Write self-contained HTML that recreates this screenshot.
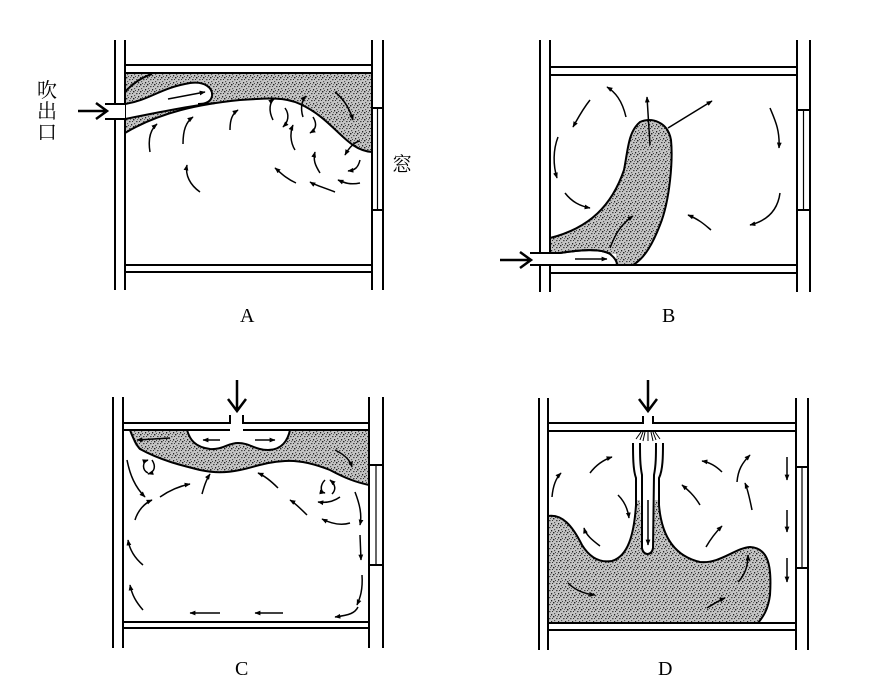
<!DOCTYPE html>
<html><head><meta charset="utf-8"><style>
html,body{margin:0;padding:0;background:#fff;}
svg{display:block;}
text{font-family:"Liberation Serif","Noto Serif CJK SC",serif;}
</style></head><body>
<svg width="874" height="682" viewBox="0 0 874 682" xmlns="http://www.w3.org/2000/svg">
<defs>
<pattern id="st" width="7" height="7" patternUnits="userSpaceOnUse">
<rect width="7" height="7" fill="#c4c4c4"/>
<rect x="0" y="0" width="1.4" height="1.4" fill="#222"/>
<rect x="3" y="2" width="1.5" height="1.2" fill="#444"/>
<rect x="5" y="5" width="1.2" height="1.4" fill="#222"/>
<rect x="1" y="4" width="1.2" height="1.2" fill="#555"/>
<rect x="4" y="0" width="1" height="1" fill="#666"/>
<rect x="6" y="2" width="1" height="1" fill="#333"/>
<rect x="2" y="6" width="1" height="1" fill="#444"/>
</pattern>
<marker id="ah" viewBox="0 0 10 10" refX="9" refY="5" markerWidth="6" markerHeight="6" orient="auto" markerUnits="userSpaceOnUse">
<path d="M0,1 L10,5 L0,9 Z" fill="#000"/>
</marker>
</defs>
<g stroke="#000" fill="none" stroke-width="2">

<!-- ===== Panel A ===== -->
<path d="M125,73 L372,73 L372,152 C345,150 335,120 300,104 C285,97 270,98 240,100 C200,104 160,112 125,133 Z" fill="url(#st)" stroke="none"/>
<path d="M125,104 C150,100 160,88 190,83 C205,81 213,88 212,96 C211,101 208,103 200,104.5 C170,109 150,114 125,119 Z" fill="#fff" stroke="none"/>
<line x1="115" y1="40" x2="115" y2="290"/><line x1="125" y1="40" x2="125" y2="290"/>
<line x1="372" y1="40" x2="372" y2="290"/><line x1="383" y1="40" x2="383" y2="108"/><line x1="383" y1="210" x2="383" y2="290"/>
<line x1="125" y1="65" x2="372" y2="65"/><line x1="125" y1="73" x2="372" y2="73"/>
<line x1="125" y1="265" x2="372" y2="265"/><line x1="125" y1="272" x2="372" y2="272"/>
<rect x="372" y="108" width="11" height="102"/><line x1="377.5" y1="108" x2="377.5" y2="210" stroke-width="1.2"/>
<path d="M125,133 C160,112 200,104 240,100 C270,98 285,97 300,104 C335,120 345,150 372,152"/>
<path d="M125,92 C132,84 140,78 152,74"/>
<path d="M105,104 L125,104 C150,100 160,88 190,83 C205,81 213,88 212,96 C211,102 205,104 198,104"/>
<path d="M105,119 L125,119 C160,112 190,106 215,103" fill="none"/>
<rect x="105" y="104" width="20" height="15" fill="#fff" stroke="none"/>
<path d="M105,104 L125,104 M105,119 L125,119"/>
<path d="M78,111 L106,111 M96,103 L107,111 L96,119" stroke-width="2.5"/>
</g>
<g stroke="#000" fill="none" stroke-width="1.5" marker-end="url(#ah)">
<path d="M168,99 L205,92"/>
<path d="M150,152 C148,140 150,130 157,124"/>
<path d="M183,144 C183,130 186,122 193,117"/>
<path d="M230,130 C230,120 232,114 238,110"/>
<path d="M200,192 C190,185 185,175 187,165"/>
<path d="M335,92 C345,100 350,110 353,120"/>
<path d="M273,120 C268,110 270,102 274,99"/>
<path d="M285,108 C290,115 288,122 283,127"/>
<path d="M303,117 C300,108 302,100 306,96"/>
<path d="M313,117 C318,125 315,130 310,133"/>
<path d="M295,150 C290,142 290,132 293,125"/>
<path d="M320,173 C315,165 313,160 315,152"/>
<path d="M360,141 C355,142 350,146 345,155"/>
<path d="M360,160 C358,168 355,170 348,171"/>
<path d="M296,183 C285,178 280,172 275,168"/>
<path d="M335,192 C325,188 315,185 310,182"/>
<path d="M360,183 C350,185 345,183 338,180"/>
</g>
<text x="37" y="97" font-size="20" font-family="Noto Sans CJK JP,sans-serif">吹</text>
<text x="37" y="118" font-size="20" font-family="Noto Sans CJK JP,sans-serif">出</text>
<text x="37" y="139" font-size="20" font-family="Noto Sans CJK JP,sans-serif">口</text>
<text x="392" y="171" font-size="20" font-family="Noto Sans CJK JP,sans-serif">窓</text>
<text x="240" y="322" font-size="20" font-family="Liberation Mono,monospace">A</text>

<!-- ===== Panel B ===== -->
<g stroke="#000" fill="none" stroke-width="2">
<path d="M550,238 C590,228 612,205 624,170 C628,150 628,132 640,122 C652,117 668,122 671,140 C673,160 670,200 660,225 C653,243 645,258 633,265 L550,265 Z" fill="url(#st)" stroke="none"/>
<line x1="540" y1="40" x2="540" y2="292"/><line x1="550" y1="40" x2="550" y2="292"/>
<line x1="797" y1="40" x2="797" y2="292"/><line x1="810" y1="40" x2="810" y2="110"/><line x1="810" y1="210" x2="810" y2="292"/>
<line x1="550" y1="67" x2="797" y2="67"/><line x1="550" y1="75" x2="797" y2="75"/>
<line x1="550" y1="265" x2="797" y2="265"/><line x1="550" y1="273" x2="797" y2="273"/>
<rect x="797" y="110" width="13" height="100"/><line x1="803.5" y1="110" x2="803.5" y2="210" stroke-width="1.2"/>
<path d="M550,238 C590,228 612,205 624,170 C628,150 628,132 640,122 C652,117 668,122 671,140 C673,160 670,200 660,225 C653,243 645,258 633,265"/>
<path d="M530,253 L560,253 C580,250 600,248 610,254 C615,258 617,262 617,265" fill="#fff"/>
<rect x="530" y="254" width="86" height="10" fill="#fff" stroke="none"/>
<path d="M530,253 L560,253 C580,250 600,248 610,254 C615,258 617,262 617,265"/>
<path d="M530,265 L617,265"/>
<path d="M500,260 L530,260 M520,252 L531,260 L520,268" stroke-width="2.5"/>
</g>
<g stroke="#000" fill="none" stroke-width="1.5" marker-end="url(#ah)">
<path d="M575,259 L607,259"/>
<path d="M610,248 C615,235 620,225 633,216"/>
<path d="M650,145 L647,97"/>
<path d="M668,128 L712,101"/>
<path d="M626,117 C622,100 615,92 607,87"/>
<path d="M590,100 C582,110 577,120 573,127"/>
<path d="M558,137 C553,150 553,165 557,178"/>
<path d="M565,193 C572,202 580,206 590,208"/>
<path d="M711,230 C705,225 700,220 688,215"/>
<path d="M780,193 C778,208 770,220 750,225"/>
<path d="M770,108 C775,120 780,130 779,148"/>
</g>
<text x="662" y="322" font-size="20" font-family="Liberation Mono,monospace">B</text>

<!-- ===== Panel C ===== -->
<g stroke="#000" fill="none" stroke-width="2">
<path d="M130,430 L187,430 C190,440 195,447 210,449 C222,450 228,443 238,443 C250,443 255,450 268,450 C282,450 288,440 290,430 L369,430 L369,485 C355,482 345,478 330,470 C315,464 300,460 285,461 C265,462 255,467 240,470 C225,473 210,473 195,468 C170,460 145,455 135,445 Z" fill="url(#st)" stroke="none"/>
<line x1="113" y1="397" x2="113" y2="648"/><line x1="123" y1="397" x2="123" y2="648"/>
<line x1="369" y1="397" x2="369" y2="648"/><line x1="383" y1="397" x2="383" y2="465"/><line x1="383" y1="565" x2="383" y2="648"/>
<path d="M123,423 L230,423 L230,415 M243,415 L243,423 L369,423"/>
<line x1="123" y1="430" x2="230" y2="430"/><line x1="243" y1="430" x2="369" y2="430"/>
<line x1="123" y1="622" x2="369" y2="622"/><line x1="123" y1="628" x2="369" y2="628"/>
<rect x="369" y="465" width="14" height="100"/><line x1="376" y1="465" x2="376" y2="565" stroke-width="1.2"/>
<path d="M130,430 C133,438 136,445 140,449 C160,460 180,465 200,470 C215,473 225,473 240,470 C255,467 265,462 285,461 C300,460 315,464 330,470 C345,478 355,482 369,485"/>
<path d="M187,430 C190,440 195,447 210,449 C222,450 228,443 238,443 C250,443 255,450 268,450 C282,450 288,440 290,430"/>
<path d="M237,380 L237,411 M228,399 L237,411 L246,399" stroke-width="2.5"/>
</g>
<g stroke="#000" fill="none" stroke-width="1.5" marker-end="url(#ah)">
<path d="M220,440 L203,440"/><path d="M255,440 L275,440"/>
<path d="M170,438 L137,440"/>
<path d="M335,450 C345,455 350,460 352,467"/>
<path d="M127,460 C130,475 135,487 145,497"/>
<path d="M148,473 C142,470 142,462 148,460"/><path d="M152,460 C156,466 155,472 148,474"/>
<path d="M160,497 C170,490 180,486 190,484"/>
<path d="M135,520 C138,510 145,503 152,500"/>
<path d="M202,494 C204,487 206,480 210,474"/>
<path d="M278,488 C272,482 265,476 258,473"/>
<path d="M307,515 C300,508 295,503 290,500"/>
<path d="M325,480 C320,485 320,492 325,493"/><path d="M332,494 C336,490 336,485 330,480"/>
<path d="M340,497 C333,502 325,503 318,502"/>
<path d="M350,523 C340,526 330,523 322,519"/>
<path d="M355,492 C360,505 362,515 360,525"/>
<path d="M360,535 L361,560"/>
<path d="M362,575 C363,590 360,598 357,605"/>
<path d="M358,607 C355,613 350,615 335,617"/>
<path d="M283,613 L255,613"/>
<path d="M220,613 L190,613"/>
<path d="M143,610 C136,602 132,595 130,585"/>
<path d="M143,565 C137,560 130,552 128,540"/>
</g>
<text x="235" y="675" font-size="20" font-family="Liberation Mono,monospace">C</text>

<!-- ===== Panel D ===== -->
<g stroke="#000" fill="none" stroke-width="2">
<path d="M548,516 C562,514 572,525 582,545 C590,558 600,563 612,561 C628,556 634,535 636,500 L640,500 L642,548 C643,555 652,555 653,548 L655,500 L659,500 C661,530 670,555 700,562 C720,564 735,548 750,547 C768,548 772,565 770,595 C768,610 763,617 758,623 L548,623 Z" fill="url(#st)" stroke="none"/>
<line x1="539" y1="398" x2="539" y2="650"/><line x1="548" y1="398" x2="548" y2="650"/>
<line x1="796" y1="398" x2="796" y2="650"/><line x1="808" y1="398" x2="808" y2="467"/><line x1="808" y1="568" x2="808" y2="650"/>
<path d="M548,423 L643,423 L643,416 M653,416 L653,423 L796,423"/>
<line x1="548" y1="431" x2="796" y2="431"/>
<line x1="548" y1="623" x2="796" y2="623"/><line x1="548" y1="630" x2="796" y2="630"/>
<rect x="796" y="467" width="12" height="101"/><line x1="802" y1="467" x2="802" y2="568" stroke-width="1.2"/>
<path d="M548,516 C562,514 572,525 582,545 C590,558 600,563 612,561 C628,556 634,535 636,505 L636,478 C633,470 633,455 633,443"/>
<path d="M640,443 C640,455 640,465 642,475 L642,548 C643,556 652,556 653,548 L654,475 C656,465 656,455 656,443"/>
<path d="M663,443 C663,455 663,470 659,478 L659,505 C661,530 670,555 700,562 C720,564 735,548 750,547 C768,548 772,565 770,595 C768,610 763,617 758,623"/>
<path d="M648,380 L648,411 M639,399 L648,411 L657,399" stroke-width="2.5"/>
</g>
<g stroke="#000" stroke-width="1" fill="none">
<path d="M641,432 L636,439 M643,432 L640,440 M645,432 L643,441 M648,432 L648,441 M651,432 L653,441 M653,432 L656,440 M655,432 L660,439"/>
</g>
<g stroke="#000" fill="none" stroke-width="1.5" marker-end="url(#ah)">
<path d="M648,500 L648,545"/>
<path d="M552,497 C553,485 556,478 561,473"/>
<path d="M590,473 C596,465 603,460 612,457"/>
<path d="M618,495 C625,502 628,510 629,518"/>
<path d="M600,546 C592,540 586,535 584,528"/>
<path d="M568,583 C575,590 585,594 595,595"/>
<path d="M722,472 C715,465 708,462 702,461"/>
<path d="M700,505 C694,495 688,490 682,485"/>
<path d="M752,510 C750,500 748,490 745,483"/>
<path d="M706,547 C710,540 716,532 722,526"/>
<path d="M737,482 C738,470 742,463 750,455"/>
<path d="M738,582 C745,575 748,565 748,555"/>
<path d="M707,608 C715,603 720,600 725,598"/>
<path d="M787,457 L787,480"/>
<path d="M787,510 L787,532"/>
<path d="M787,558 L787,582"/>
</g>
<text x="658" y="675" font-size="20" font-family="Liberation Mono,monospace">D</text>
</svg>
</body></html>
